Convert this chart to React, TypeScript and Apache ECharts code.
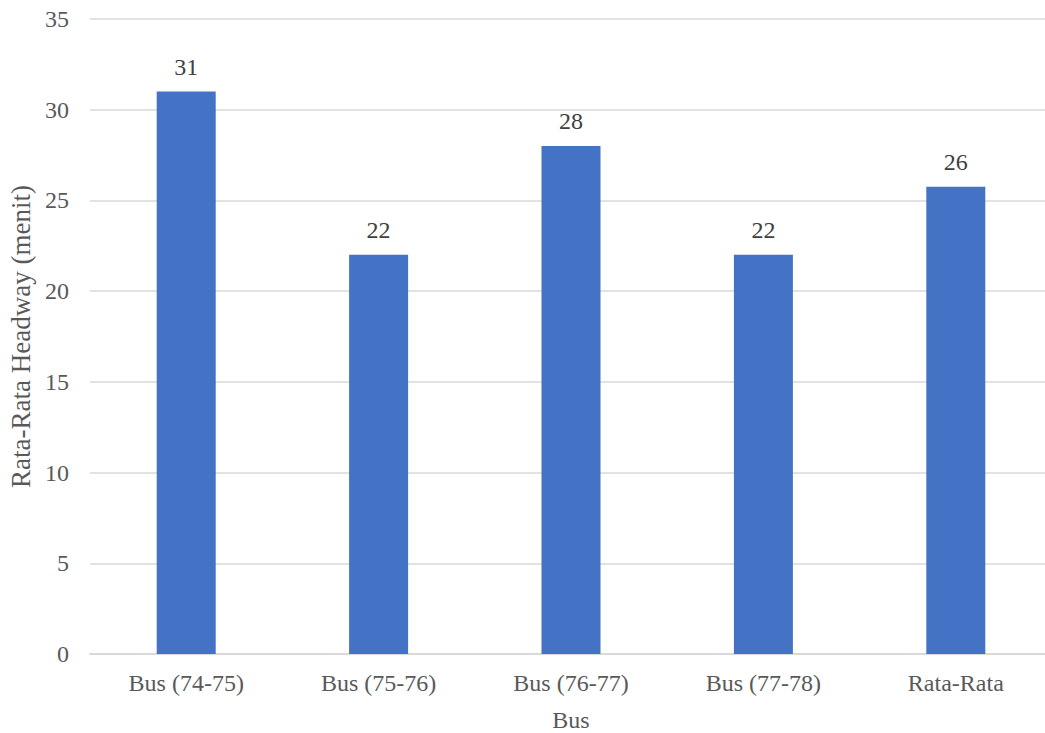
import React, { useEffect, useRef } from "react";
import * as echarts from "echarts";

const categories = ["Bus (74-75)", "Bus (75-76)", "Bus (76-77)", "Bus (77-78)", "Rata-Rata"];
const headway = [31, 22, 28, 22, 25.75];
const yTicks = { min: 0, max: 35, interval: 5 };
const xTitle = "Bus";
const yTitle = "Rata-Rata Headway (menit)";

const FONT = "Liberation Serif";
const TEXT = "#595959";

export default function App() {
  const ref = useRef<HTMLDivElement>(null);
  useEffect(() => {
    document.body.style.margin = "0";
    const chart = echarts.init(ref.current!, null, { renderer: "svg" });
    chart.setOption({
      animation: false,
      backgroundColor: "#ffffff",
      textStyle: { fontFamily: FONT, color: TEXT },
      grid: { left: 90, top: 19, width: 962, height: 635, outerBoundsMode: "none", containLabel: false },
      xAxis: {
        type: "category",
        data: categories,
        name: xTitle,
        nameLocation: "middle",
        nameGap: 54,
        nameTextStyle: { fontFamily: FONT, fontSize: 24, color: TEXT },
        axisLine: { show: true, lineStyle: { color: "#d9d9d9", width: 2 } },
        axisTick: { show: false },
        axisLabel: { fontFamily: FONT, fontSize: 24, color: TEXT, margin: 17 },
      },
      yAxis: {
        type: "value",
        min: yTicks.min,
        max: yTicks.max,
        interval: yTicks.interval,
        name: yTitle,
        nameLocation: "middle",
        nameGap: 56,
        nameTextStyle: { fontFamily: FONT, fontSize: 27, color: TEXT },
        axisLine: { show: false },
        axisTick: { show: false },
        axisLabel: { fontFamily: FONT, fontSize: 24, color: TEXT, margin: 21 },
        splitLine: { lineStyle: { color: "#d9d9d9", width: 1.5 } },
      },
      series: [
        {
          type: "bar",
          data: headway,
          barWidth: 59,
          itemStyle: { color: "#4472C4" },
          label: {
            show: true,
            position: "top",
            distance: 13,
            fontFamily: FONT,
            fontSize: 24,
            color: "#404040",
            formatter: (p: any) => String(Math.round(p.value)),
          },
        },
      ],
    });
    return () => chart.dispose();
  }, []);
  return <div ref={ref} style={{ width: 1045, height: 733, position: "absolute", left: 0, top: 0 }} />;
}
